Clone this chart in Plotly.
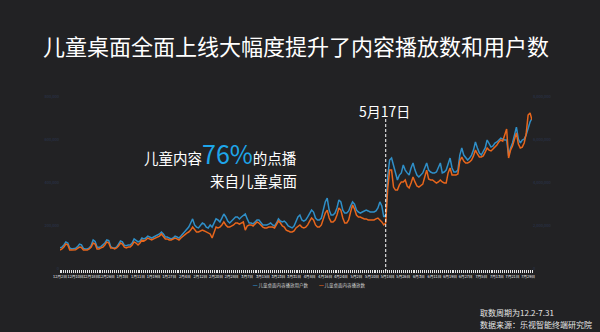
import pandas as pd
import plotly.graph_objects as go

# Daily series, 2015-12-02 .. 2016-07-31 (values in 万)
dates = pd.date_range("2015-12-02", "2016-07-31", freq="D")

# 儿童桌面内容播放用户数 (one row per week, Wed..Tue)
users = [
    9.8, 10.2, 11.2, 12.6, 12.1, 9.8, 9.3,
    9.3, 9.6, 10.4, 11.6, 11.2, 9.6, 9.3,
    9.3, 9.8, 11.0, 13.5, 12.8, 10.2, 10.0,
    10.4, 11.2, 12.1, 13.5, 13.2, 10.4, 9.8,
    9.8, 10.2, 11.6, 13.0, 12.6, 11.0, 10.8,
    11.2, 11.2, 12.1, 14.0, 13.5, 12.6, 13.0,
    14.4, 14.0, 14.4, 15.3, 14.9, 14.4, 14.9,
    15.3, 15.8, 16.3, 17.2, 16.3, 14.9, 14.9,
    14.4, 14.0, 14.4, 15.3, 14.9, 14.4, 15.3,
    16.3, 17.2, 18.1, 19.5, 21.4, 23.3, 20.5,
    19.5, 19.1, 20.5, 21.4, 20.9, 19.5, 19.1,
    20.5, 19.5, 21.4, 23.3, 22.8, 21.9, 23.7,
    25.6, 24.2, 22.3, 21.4, 22.3, 23.3, 24.2,
    24.2, 23.3, 24.2, 25.1, 25.6, 23.3, 21.4,
    21.4, 21.0, 21.9, 22.8, 22.8, 21.4, 20.5,
    20.5, 20.5, 20.9, 21.4, 20.5, 20.0, 21.4,
    23.3, 22.3, 21.9, 22.3, 21.4, 20.0, 19.5,
    19.1, 20.0, 22.3, 24.2, 25.1, 22.8, 22.3,
    22.8, 24.2, 25.6, 27.4, 26.5, 23.7, 22.8,
    22.8, 23.7, 27.4, 31.2, 33.0, 27.4, 25.1,
    25.1, 26.0, 28.4, 32.1, 31.2, 27.4, 26.0,
    26.0, 27.0, 29.3, 31.2, 30.2, 27.4, 26.5,
    26.0, 26.5, 27.0, 27.4, 27.0, 26.5, 26.5,
    26.5, 27.0, 28.4, 31.2, 29.3, 24.2, 25.1,
    42.8, 50.7, 51.6, 48.4, 44.7, 41.4, 43.7,
    44.7, 48.4, 46.0, 44.7, 43.7, 47.0, 49.3,
    46.0, 43.7, 42.8, 43.7, 44.7, 47.0, 49.3,
    46.0, 45.1, 44.7, 44.7, 45.1, 47.0, 49.3,
    44.7, 45.1, 46.0, 49.3, 51.6, 47.0, 45.1,
    45.1, 46.0, 53.0, 56.3, 53.0, 51.6, 50.7,
    51.6, 53.0, 55.3, 59.1, 56.3, 54.0, 53.0,
    54.4, 56.3, 60.0, 58.6, 56.7, 57.2, 58.6,
    59.1, 60.0, 60.9, 60.4, 60.0, 60.0, 52.6,
    56.3, 58.6, 62.3, 66.0, 60.4, 58.6, 60.0,
    60.4, 62.3, 66.0, 68.4, 70.2,
]

# 儿童桌面内容播放数 (scaled to the right axis)
plays = [
    8.8, 9.3, 10.2, 11.6, 11.2, 8.8, 8.8,
    8.8, 9.0, 9.6, 10.2, 10.0, 8.8, 8.8,
    8.8, 9.3, 10.2, 12.1, 11.6, 9.3, 9.3,
    9.8, 10.2, 11.2, 12.6, 12.1, 9.8, 9.8,
    9.3, 9.8, 10.7, 12.1, 11.6, 10.2, 9.8,
    10.2, 10.2, 11.2, 12.6, 12.1, 11.2, 12.1,
    13.5, 13.0, 13.5, 14.4, 14.0, 13.5, 14.0,
    14.4, 14.9, 15.3, 16.3, 15.3, 14.0, 14.0,
    13.5, 13.5, 14.0, 14.4, 14.0, 13.5, 14.4,
    15.3, 15.8, 16.7, 17.2, 18.1, 19.5, 18.1,
    17.2, 17.2, 17.7, 18.1, 17.7, 17.2, 16.7,
    16.3, 14.4, 17.2, 19.5, 19.1, 19.5, 20.5,
    21.9, 20.5, 19.5, 19.5, 20.0, 20.5, 21.4,
    21.4, 20.9, 21.4, 21.9, 18.1, 20.0, 20.5,
    20.5, 20.0, 20.9, 21.9, 21.4, 20.5, 19.5,
    19.1, 19.1, 19.5, 19.5, 19.5, 19.1, 20.5,
    22.3, 21.4, 20.0, 19.5, 18.1, 17.7, 17.2,
    17.2, 17.7, 19.1, 20.0, 20.5, 19.5, 19.1,
    19.5, 20.5, 22.3, 23.7, 22.8, 20.5, 19.5,
    19.5, 20.5, 23.3, 26.0, 27.4, 23.7, 21.9,
    21.9, 22.8, 25.1, 28.4, 27.4, 23.7, 21.4,
    21.4, 22.8, 26.5, 29.8, 27.9, 25.1, 24.2,
    24.2, 23.7, 23.3, 23.3, 22.8, 22.8, 22.8,
    22.8, 23.3, 23.7, 22.8, 21.9, 20.5, 21.4,
    37.2, 46.0, 46.0, 38.1, 36.7, 36.7, 39.1,
    40.5, 40.5, 41.4, 38.6, 37.7, 40.0, 42.8,
    40.5, 38.6, 38.1, 38.6, 39.5, 42.8, 46.0,
    41.9, 41.4, 41.4, 40.5, 40.0, 40.5, 41.4,
    40.5, 40.0, 40.0, 44.7, 47.0, 43.7, 43.7,
    43.7, 44.2, 50.2, 52.1, 50.2, 49.3, 49.3,
    49.8, 50.7, 52.6, 55.3, 53.5, 52.1, 52.1,
    52.6, 54.4, 56.3, 55.3, 54.9, 55.8, 56.7,
    57.7, 59.1, 60.0, 59.5, 61.9, 65.1, 51.6,
    55.3, 57.2, 60.5, 63.3, 58.1, 56.3, 56.7,
    58.6, 62.8, 71.6, 72.6, 69.3,
]

y_ticks = [0, 20, 40, 60, 80]
y_left_labels = ["0", "200,000", "400,000", "600,000", "800,000"]
y_right_labels = ["0", "2,000,000", "4,000,000", "6,000,000", "8,000,000"]

launch_day = "2016-05-17"
series_names = ["儿童桌面内容播放用户数", "儿童桌面内容播放数"]
BLUE = "#2f8fc8"
ORANGE = "#e8661c"
BG = "#222224"
FONT = "Noto Sans CJK SC"

W, H = 600, 332
L, R, T, B = 60, 68, 97, 63
PW, PH = W - L - R, H - T - B


def px(x, y):
    """pixel position -> paper coordinates of the plot area"""
    return (x - L) / PW, (H - B - y) / PH


fig = go.Figure()
fig.add_trace(go.Scatter(x=dates, y=users, name=series_names[0], mode="lines",
                         line=dict(color=BLUE, width=1.5)))
fig.add_trace(go.Scatter(x=dates, y=plays, name=series_names[1], mode="lines",
                         yaxis="y2", line=dict(color=ORANGE, width=1.5)))

# labelled ticks along the date axis
tick_dates = dates[::8]
tick_text = [f"{d.month}月{d.day}日" for d in tick_dates]

fig.update_layout(
    width=W, height=H,
    margin=dict(l=L, r=R, t=T, b=B),
    paper_bgcolor=BG, plot_bgcolor=BG,
    font=dict(family=FONT, color="#ffffff"),
    showlegend=False,
    xaxis=dict(
        range=[dates[0], dates[-1]],
        showgrid=False, zeroline=False, showline=False,
        tickmode="array", tickvals=tick_dates, ticktext=tick_text,
        tickangle=0, ticklabelstandoff=4,
        tickfont=dict(size=3.8, color="#f0f0f0"), ticks="",
        minor=dict(dtick=86400000, ticks="outside", ticklen=3,
                   tickcolor="#e6e6e6", tickwidth=1.2),
    ),
    yaxis=dict(
        range=[0, 80], showgrid=False, zeroline=False, showline=False,
        tickmode="array", tickvals=y_ticks, ticktext=y_left_labels,
        tickfont=dict(size=4, color="#2b3752"), ticks="",
    ),
    yaxis2=dict(
        range=[0, 80], overlaying="y", side="right",
        showgrid=False, zeroline=False, showline=False,
        tickmode="array", tickvals=y_ticks, ticktext=y_right_labels,
        tickfont=dict(size=4, color="#2b3752"), ticks="",
    ),
)

# launch marker
fig.add_shape(type="line", x0=launch_day, x1=launch_day, xref="x",
              y0=px(0, 119)[1], y1=px(0, 271)[1], yref="paper",
              line=dict(color="#ffffff", width=1, dash="3px,2px"))

ann = []
tx, ty = px(296, 45)
ann.append(dict(x=tx, y=ty, text="儿童桌面全面上线大幅度提升了内容播放数和用户数",
                font=dict(size=22, color="#ffffff")))
lx, ly = px(384, 111)
ann.append(dict(x=lx, y=ly, text="5月17日", font=dict(size=14, color="#ffffff")))
ax1, ay1 = px(299, 153)
ann.append(dict(x=ax1, y=ay1, xanchor="right",
                text="儿童内容<span style='font-size:25px;color:#1ea6ea'>76%</span>的点播",
                font=dict(size=14.5, color="#ffffff")))
ax2, ay2 = px(299, 180)
ann.append(dict(x=ax2, y=ay2, xanchor="right", text="来自儿童桌面",
                font=dict(size=14.5, color="#ffffff")))

# hand-drawn legend
for (x0, color, name) in [(251, BLUE, series_names[0]), (317, ORANGE, series_names[1])]:
    kx, ky = px(x0, 285)
    ann.append(dict(x=kx, y=ky, xanchor="left", text=f"<span style='color:{color}'>━</span> {name}",
                    font=dict(size=4.5, color="#d0d0d0")))

sx, sy = px(478, 312)
ann.append(dict(x=sx, y=sy, xanchor="left", text="取数周期为12.2-7.31",
                font=dict(size=8, color="#e6e6e6")))
sx, sy = px(478, 324)
ann.append(dict(x=sx, y=sy, xanchor="left", text="数据来源：乐视智能终端研究院",
                font=dict(size=8, color="#e6e6e6")))

for a in ann:
    a.setdefault("xanchor", "center")
    fig.add_annotation(xref="paper", yref="paper", showarrow=False,
                       yanchor="middle", **a)

fig.write_html("out.html")
